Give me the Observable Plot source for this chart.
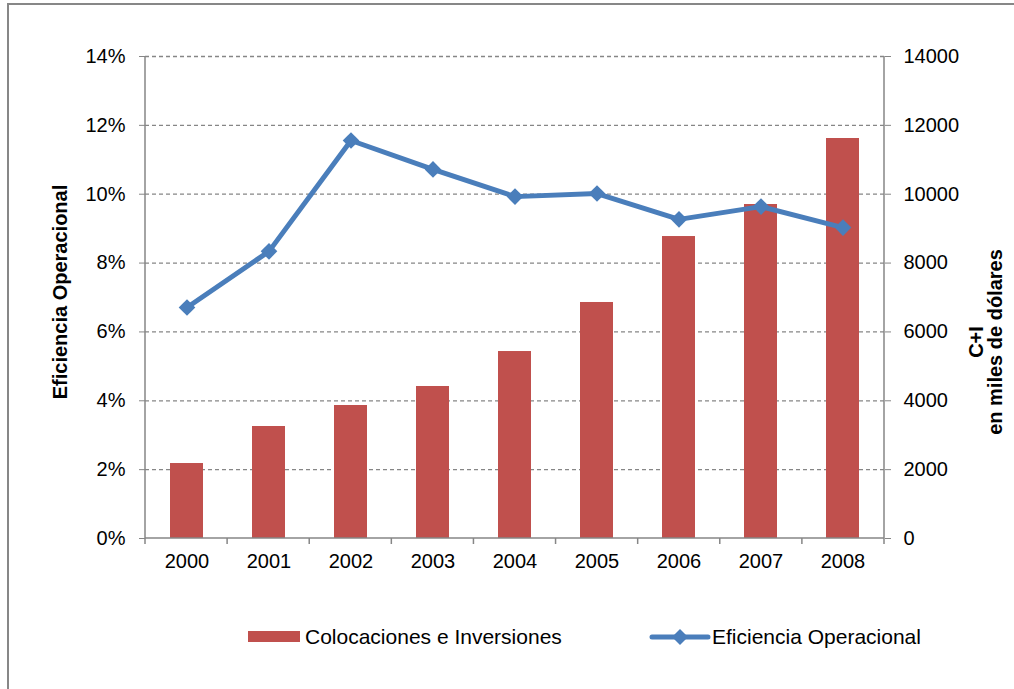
<!DOCTYPE html>
<html>
<head>
<meta charset="utf-8">
<script src="https://cdn.jsdelivr.net/npm/d3@7"></script>
<script src="https://cdn.jsdelivr.net/npm/@observablehq/plot@0.6"></script>
<style>
  html, body { margin: 0; padding: 0; background: #fff; overflow: hidden; }
  #wrap { position: relative; width: 1014px; height: 689px; }
  #frame { position: absolute; left: 7px; top: 3px; width: 1100px; height: 800px; border: 2px solid #878787; box-sizing: border-box; }
  #chart { position: absolute; left: 0; top: 0; }
</style>
</head>
<body>
<div id="wrap"><div id="frame"></div><div id="chart"></div></div>
<script>
const years = ["2000", "2001", "2002", "2003", "2004", "2005", "2006", "2007", "2008"];
const colocaciones = [2178, 3253, 3863, 4415, 5431, 6855, 8771, 9701, 11618];
const eficiencia = [6.71, 8.34, 11.56, 10.72, 9.93, 10.02, 9.27, 9.64, 9.03];
const pctTicks = [0, 2, 4, 6, 8, 10, 12, 14];
const rightTicks = [0, 2000, 4000, 6000, 8000, 10000, 12000, 14000];
const leftTitle = "Eficiencia Operacional";
const rightTitle = ["C+I", "en miles de dólares"];
const legendLabels = ["Colocaciones e Inversiones", "Eficiencia Operacional"];

const RATIO = 1000; // 14000 on right axis <-> 14% on left axis
const data = years.map((year, i) => ({ year, col: colocaciones[i] / RATIO, ef: eficiencia[i] }));

const BAR = "#C0504D", LINE = "#4A7EBB", GRID = "#868686";
const FONT = "'Liberation Sans', Arial, sans-serif";

const W = 1014, H = 689, ML = 145, MR = 130, MT = 56, MB = 151;

// axis lines and category boundary ticks
function axisLines(index, scales, values, dim) {
  const g = d3.create("svg:g").attr("stroke", GRID).attr("stroke-width", 1.5).attr("fill", "none");
  const x0 = dim.marginLeft, x1 = dim.width - dim.marginRight;
  const y0 = dim.marginTop, y1 = dim.height - dim.marginBottom;
  g.append("line").attr("x1", x0).attr("x2", x0).attr("y1", y0).attr("y2", y1);
  g.append("line").attr("x1", x1).attr("x2", x1).attr("y1", y0).attr("y2", y1);
  g.append("line").attr("x1", x0).attr("x2", x1).attr("y1", y1).attr("y2", y1);
  const n = years.length, step = (x1 - x0) / n;
  for (let i = 0; i <= n; i++) {
    const x = x0 + i * step;
    g.append("line").attr("x1", x).attr("x2", x).attr("y1", y1).attr("y2", y1 + 6);
  }
  return g.node();
}

const plot = Plot.plot({
  width: W, height: H,
  marginLeft: ML, marginRight: MR, marginTop: MT, marginBottom: MB,
  style: { fontFamily: FONT, fontSize: "20px", background: "transparent", color: "black", overflow: "visible" },
  x: { type: "band", domain: years, paddingInner: 0.6, paddingOuter: 0.3, axis: null },
  y: { domain: [0, 14], axis: null },
  marks: [
    Plot.ruleY(pctTicks.filter(d => d > 0), { stroke: GRID, strokeWidth: 1.3, strokeDasharray: "4,3" }),
    Plot.barY(data, { x: "year", y: "col", fill: BAR }),
    axisLines,
    Plot.axisY(pctTicks, { anchor: "left", tickSize: 6, tickPadding: 14, stroke: GRID, fill: "black", fontSize: 20, tickFormat: d => d + "%", label: null }),
    Plot.axisY(rightTicks.map(d => d / RATIO), { anchor: "right", tickSize: 6, tickPadding: 13, stroke: GRID, fill: "black", fontSize: 20, tickFormat: d => String(Math.round(d * RATIO)), label: null }),
    Plot.axisX(years, { anchor: "bottom", tickSize: 0, tickPadding: 15, fill: "black", fontSize: 20, label: null }),
    Plot.line(data, { x: "year", y: "ef", stroke: LINE, strokeWidth: 5, strokeLinejoin: "round" }),
    Plot.dot(data, { x: "year", y: "ef", symbol: "diamond2", r: 7.5, fill: LINE, stroke: "none" })
  ]
});

const svg = d3.select(plot);
svg.style("font-family", FONT);

// axis titles
svg.append("text")
  .attr("transform", "translate(67,292) rotate(-90)")
  .attr("text-anchor", "middle")
  .attr("font-size", 20).attr("font-weight", "bold").attr("fill", "black")
  .text(leftTitle);
svg.append("text")
  .attr("transform", "translate(983,342) rotate(-90)")
  .attr("text-anchor", "middle")
  .attr("font-size", 20).attr("font-weight", "bold").attr("fill", "black")
  .text(rightTitle[0]);
svg.append("text")
  .attr("transform", "translate(1002,342) rotate(-90)")
  .attr("text-anchor", "middle")
  .attr("font-size", 20).attr("font-weight", "bold").attr("fill", "black")
  .text(rightTitle[1]);

// legend
const lg = svg.append("g");
lg.append("rect").attr("x", 248).attr("y", 631).attr("width", 52).attr("height", 11).attr("fill", BAR);
lg.append("text").attr("x", 305).attr("y", 637).attr("dy", "0.35em").attr("text-anchor", "start").attr("font-size", 21).attr("fill", "black").text(legendLabels[0]);
lg.append("line").attr("x1", 652).attr("x2", 708).attr("y1", 637).attr("y2", 637).attr("stroke", LINE).attr("stroke-width", 5).attr("stroke-linecap", "round");
lg.append("path").attr("d", "M680,629L688,637L680,645L672,637Z").attr("fill", LINE);
lg.append("text").attr("x", 712).attr("y", 637).attr("dy", "0.35em").attr("text-anchor", "start").attr("font-size", 21).attr("fill", "black").text(legendLabels[1]);

document.getElementById("chart").appendChild(plot);
</script>
</body>
</html>
